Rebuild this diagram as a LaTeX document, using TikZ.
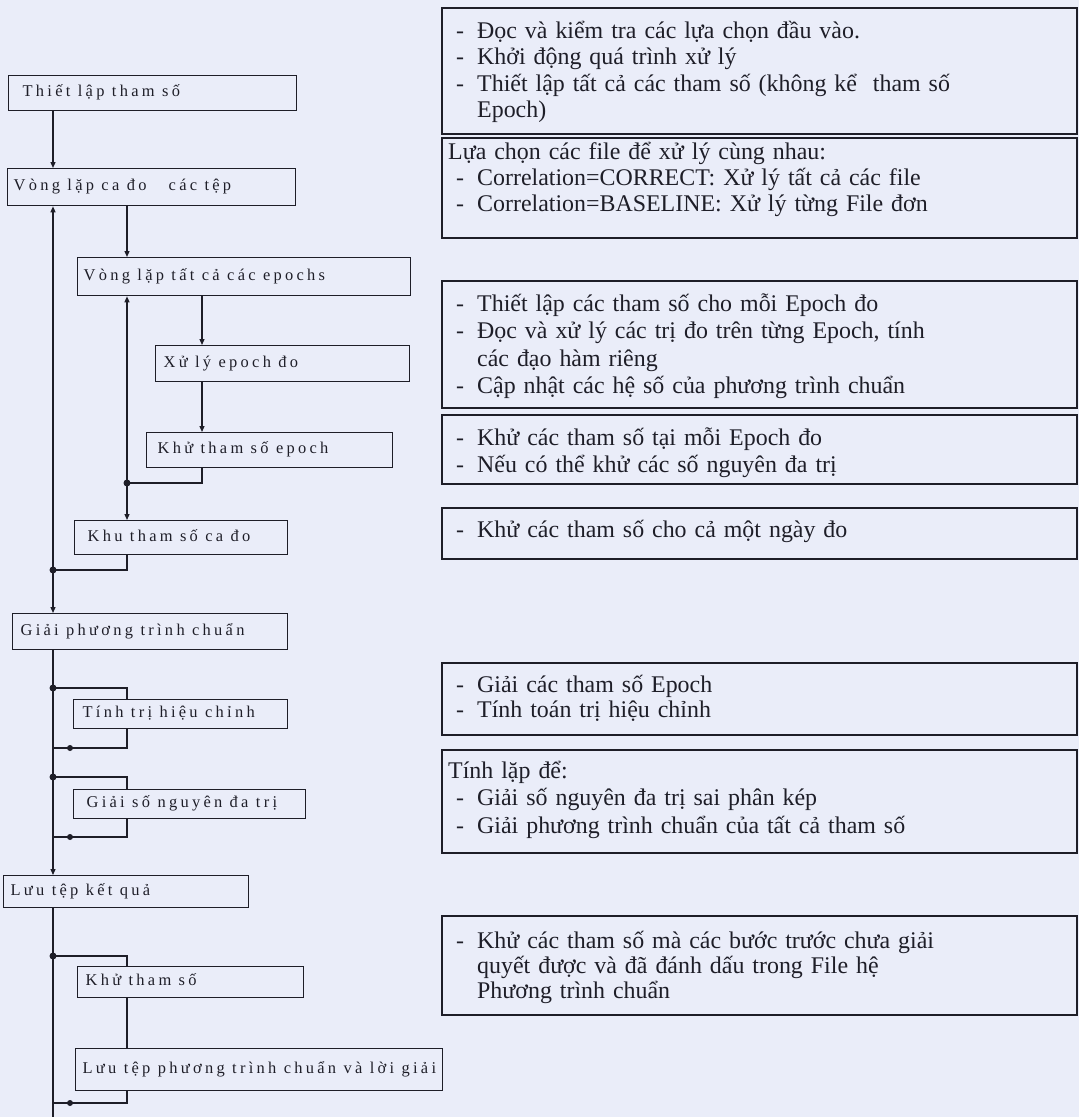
\documentclass[tikz,border=0pt]{standalone}
\usepackage{fontspec}
\setmainfont{Liberation Serif}
\newfontfamily\lfont[LetterSpace=20]{Liberation Serif}
\usetikzlibrary{arrows.meta}
\definecolor{bgc}{RGB}{234,237,249}
\definecolor{ink}{RGB}{30,30,40}
\newcommand\ditem[1]{\hspace*{8bp}\makebox[21bp][l]{-}#1}
\newcommand\dcont[1]{\hspace*{29bp}#1}
\tikzset{
 lbox/.style={draw=ink, line width=1.3bp, rectangle, anchor=north west, inner sep=0pt, font=\lfont\fontsize{16.5}{18}\selectfont, text=ink},
 rbox/.style={draw=ink, line width=1.8bp, rectangle, anchor=north west, inner sep=0pt},
 rtext/.style={anchor=base west, inner sep=0pt, text width=625bp, align=left, text=ink},
 conn/.style={draw=ink, line width=1.2bp},
 arr/.style={conn, -{Triangle[length=6bp,width=5bp]}},
 jdot/.style={circle, fill=ink, inner sep=0pt, minimum size=7bp},
}
\begin{document}
\begin{tikzpicture}[x=1bp,y=-1bp]
\fill[bgc] (0,0) rectangle (1079,1117);
\useasboundingbox (0,0) rectangle (1079,1117);
\coordinate (sx) at (53,0);
\coordinate (mx) at (127,0);
\coordinate (ix) at (202,0);
% left boxes
\node[lbox, minimum height=35bp] (b1) at (8,75) {\makebox[288bp][l]{\hspace{14bp}Thiết lập tham số\strut}};
\node[lbox, minimum height=37bp] (b2) at (7,168) {\makebox[288bp][l]{\hspace{6bp}Vòng lặp ca đo \ \ các tệp\strut}};
\node[lbox, minimum height=38bp] (b3) at (77,257) {\makebox[333bp][l]{\hspace{6bp}Vòng lặp tất cả các epochs\strut}};
\node[lbox, minimum height=36bp] (b4) at (155,345) {\makebox[254bp][l]{\hspace{8bp}Xử lý epoch đo\strut}};
\node[lbox, minimum height=35bp] (b5) at (146,432) {\makebox[246bp][l]{\hspace{11bp}Khử tham số epoch\strut}};
\node[lbox, minimum height=34bp] (b6) at (74,520) {\makebox[213bp][l]{\hspace{13bp}Khu tham số ca đo\strut}};
\node[lbox, minimum height=36bp] (b7) at (12,613) {\makebox[275bp][l]{\hspace{8bp}Giải phương trình chuẩn\strut}};
\node[lbox, minimum height=29bp] (b8) at (73,699) {\makebox[214bp][l]{\hspace{9bp}Tính trị hiệu chỉnh\strut}};
\node[lbox, minimum height=29bp] (b9) at (73,789) {\makebox[232bp][l]{\hspace{13bp}Giải số nguyên đa trị\strut}};
\node[lbox, minimum height=32bp] (b10) at (3,875) {\makebox[245bp][l]{\hspace{7bp}Lưu tệp kết quả\strut}};
\node[lbox, minimum height=31bp] (b11) at (77,966) {\makebox[226bp][l]{\hspace{8bp}Khử tham số\strut}};
\node[lbox, minimum height=42bp] (b12) at (75,1048) {\makebox[367bp][l]{\hspace{7bp}Lưu tệp phương trình chuẩn và lời giải\strut}};
% right boxes
\node[rbox, minimum width=635bp, minimum height=126bp] (rA) at (441,7) {};
\node[rbox, minimum width=635bp, minimum height=100bp] (rB) at (441,137) {};
\node[rbox, minimum width=635bp, minimum height=127bp] (rC) at (441,280) {};
\node[rbox, minimum width=635bp, minimum height=69bp] (rD) at (441,414) {};
\node[rbox, minimum width=635bp, minimum height=51bp] (rE) at (441,507) {};
\node[rbox, minimum width=635bp, minimum height=72bp] (rF) at (441,662) {};
\node[rbox, minimum width=635bp, minimum height=103bp] (rG) at (441,749) {};
\node[rbox, minimum width=635bp, minimum height=99bp] (rH) at (441,915) {};
\node[rtext, font=\fontsize{24}{26.7}\selectfont] (tA) at (448,38) {\ditem{Đọc và kiểm tra các lựa chọn đầu vào.}\\\ditem{Khởi động quá trình xử lý}\\\ditem{Thiết lập tất cả các tham số (không kể \ tham số}\\\dcont{Epoch)}};
\node[rtext, font=\fontsize{24}{26.5}\selectfont] (tB) at (448,159) {Lựa chọn các file để xử lý cùng nhau:\\\ditem{Correlation=CORRECT: Xử lý tất cả các file}\\\ditem{Correlation=BASELINE: Xử lý từng File đơn}};
\node[rtext, font=\fontsize{24}{27.7}\selectfont] (tC) at (448,311) {\ditem{Thiết lập các tham số cho mỗi Epoch đo}\\\ditem{Đọc và xử lý các trị đo trên từng Epoch, tính}\\\dcont{các đạo hàm riêng}\\\ditem{Cập nhật các hệ số của phương trình chuẩn}};
\node[rtext, font=\fontsize{24}{28}\selectfont] (tD) at (448,445) {\ditem{Khử các tham số tại mỗi Epoch đo}\\\ditem{Nếu có thể khử các số nguyên đa trị}};
\node[rtext, font=\fontsize{24}{27}\selectfont] (tE) at (448,537) {\ditem{Khử các tham số cho cả một ngày đo}};
\node[rtext, font=\fontsize{24}{26}\selectfont] (tF) at (448,692) {\ditem{Giải các tham số Epoch}\\\ditem{Tính toán trị hiệu chỉnh}};
\node[rtext, font=\fontsize{24}{28}\selectfont] (tG) at (448,778) {Tính lặp để:\\\ditem{Giải số nguyên đa trị sai phân kép}\\\ditem{Giải phương trình chuẩn của tất cả tham số}};
\node[rtext, font=\fontsize{24}{25.5}\selectfont] (tH) at (448,948) {\ditem{Khử các tham số mà các bước trước chưa giải}\\\dcont{quyết được và đã đánh dấu trong File hệ}\\\dcont{Phương trình chuẩn}};
% connectors
\coordinate (j1) at (53,570);
\coordinate (j2) at (127,483);
\coordinate (j3) at (53,688);
\coordinate (j4) at (53,777);
\coordinate (j5) at (53,956);
\coordinate (r1) at (53,748);
\coordinate (r2) at (53,837);
\coordinate (r3) at (53,1103);
\coordinate (bot) at (53,1117);
\draw[arr] (b1.south -| sx) -- (b2.north -| sx);
\draw[arr] (b2.south -| mx) -- (b3.north -| mx);
\draw[arr] (b3.south -| ix) -- (b4.north -| ix);
\draw[arr] (b4.south -| ix) -- (b5.north -| ix);
\draw[conn] (b5.south -| ix) |- (j2);
\draw[arr] (j2) -- (b3.south -| mx);
\draw[arr] (j2) -- (b6.north -| mx);
\draw[conn] (b6.south -| mx) |- (j1);
\draw[arr] (j1) -- (b2.south -| sx);
\draw[arr] (j1) -- (b7.north -| sx);
\draw[arr] (b7.south -| sx) -- (b10.north -| sx);
\draw[conn] (j3) -| (b8.north -| mx);
\draw[conn] (b8.south -| mx) |- (r1);
\draw[conn] (j4) -| (b9.north -| mx);
\draw[conn] (b9.south -| mx) |- (r2);
\draw[conn] (b10.south -| sx) -- (bot);
\draw[conn] (j5) -| (b11.north -| mx);
\draw[conn] (b11.south -| mx) -- (b12.north -| mx);
\draw[conn] (b12.south -| mx) |- (r3);
\foreach \j in {j1,j2,j3,j4,j5} \node[jdot] at (\j) {};
\foreach \r in {r1,r2,r3} \node[jdot, minimum size=6bp] at ([xshift=17bp]\r) {};
\end{tikzpicture}
\end{document}
